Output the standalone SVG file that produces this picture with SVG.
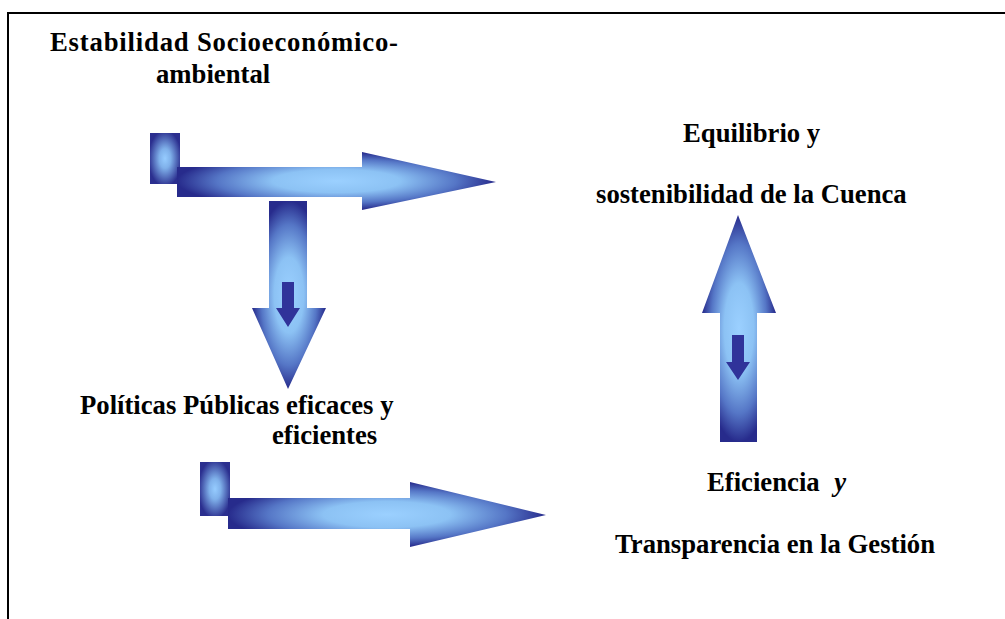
<svg xmlns="http://www.w3.org/2000/svg" width="1005" height="619" viewBox="0 0 1005 619">
<style>
.t{font-family:"Liberation Serif","Times New Roman",serif;font-weight:bold;font-size:26.7px;fill:#000}
.inner{fill:#30339A}
</style>
<defs>
<radialGradient id="ga" cx="0.5" cy="0.5" r="0.5">
<stop offset="0" stop-color="#9BD0FF"/>
<stop offset="0.4" stop-color="#8CC2F4"/>
<stop offset="0.75" stop-color="#5576C6"/>
<stop offset="1" stop-color="#272B8C"/>
</radialGradient>
<radialGradient id="gr" cx="0.5" cy="0.5" r="0.55">
<stop offset="0" stop-color="#96CCFF"/>
<stop offset="0.35" stop-color="#7FB0EA"/>
<stop offset="1" stop-color="#2B2F8F"/>
</radialGradient>
</defs>
<rect x="8" y="13" width="1010" height="620" fill="none" stroke="#000" stroke-width="2"/>
<g id="connectors">
<g id="arrow-top">
<rect x="150" y="133" width="30" height="51" fill="url(#gr)"/>
<path d="M177,167 H362 V152 L496,182 L362,210 V197 H177 Z" fill="url(#ga)"/>
</g>
<g id="arrow-down">
<path d="M269,201 H307 V308 H326 L288,389 L252,308 H269 Z" fill="url(#ga)"/>
<path class="inner" d="M282,282 H294 V308 H300 L288,327 L276,308 H282 Z"/>
</g>
<g id="arrow-up">
<path d="M738,215 L776,313 H757 V442 H720 V313 H702 Z" fill="url(#ga)"/>
<path class="inner" d="M732,335 H744 V362 H750 L738,380 L726,362 H732 Z"/>
</g>
<g id="arrow-bottom">
<rect x="200" y="462" width="30" height="54" fill="url(#gr)"/>
<path d="M228,498 H410 V482 L546,515 L410,547 V529 H228 Z" fill="url(#ga)"/>
</g>
</g>
<g id="node-estabilidad">
<text class="t" x="50" y="51" textLength="348" lengthAdjust="spacing">Estabilidad Socioeconómico-</text>
<text class="t" x="156" y="83">ambiental</text>
</g>
<g id="node-equilibrio">
<text class="t" x="683" y="142">Equilibrio y</text>
<text class="t" x="596" y="203">sostenibilidad de la Cuenca</text>
</g>
<g id="node-politicas">
<text class="t" x="80" y="414">Políticas Públicas eficaces y</text>
<text class="t" x="272" y="444">eficientes</text>
</g>
<g id="node-eficiencia">
<text class="t" x="707" y="491">Eficiencia <tspan dx="8" font-style="italic">y</tspan></text>
<text class="t" x="615" y="553">Transparencia en la Gestión</text>
</g>
</svg>
